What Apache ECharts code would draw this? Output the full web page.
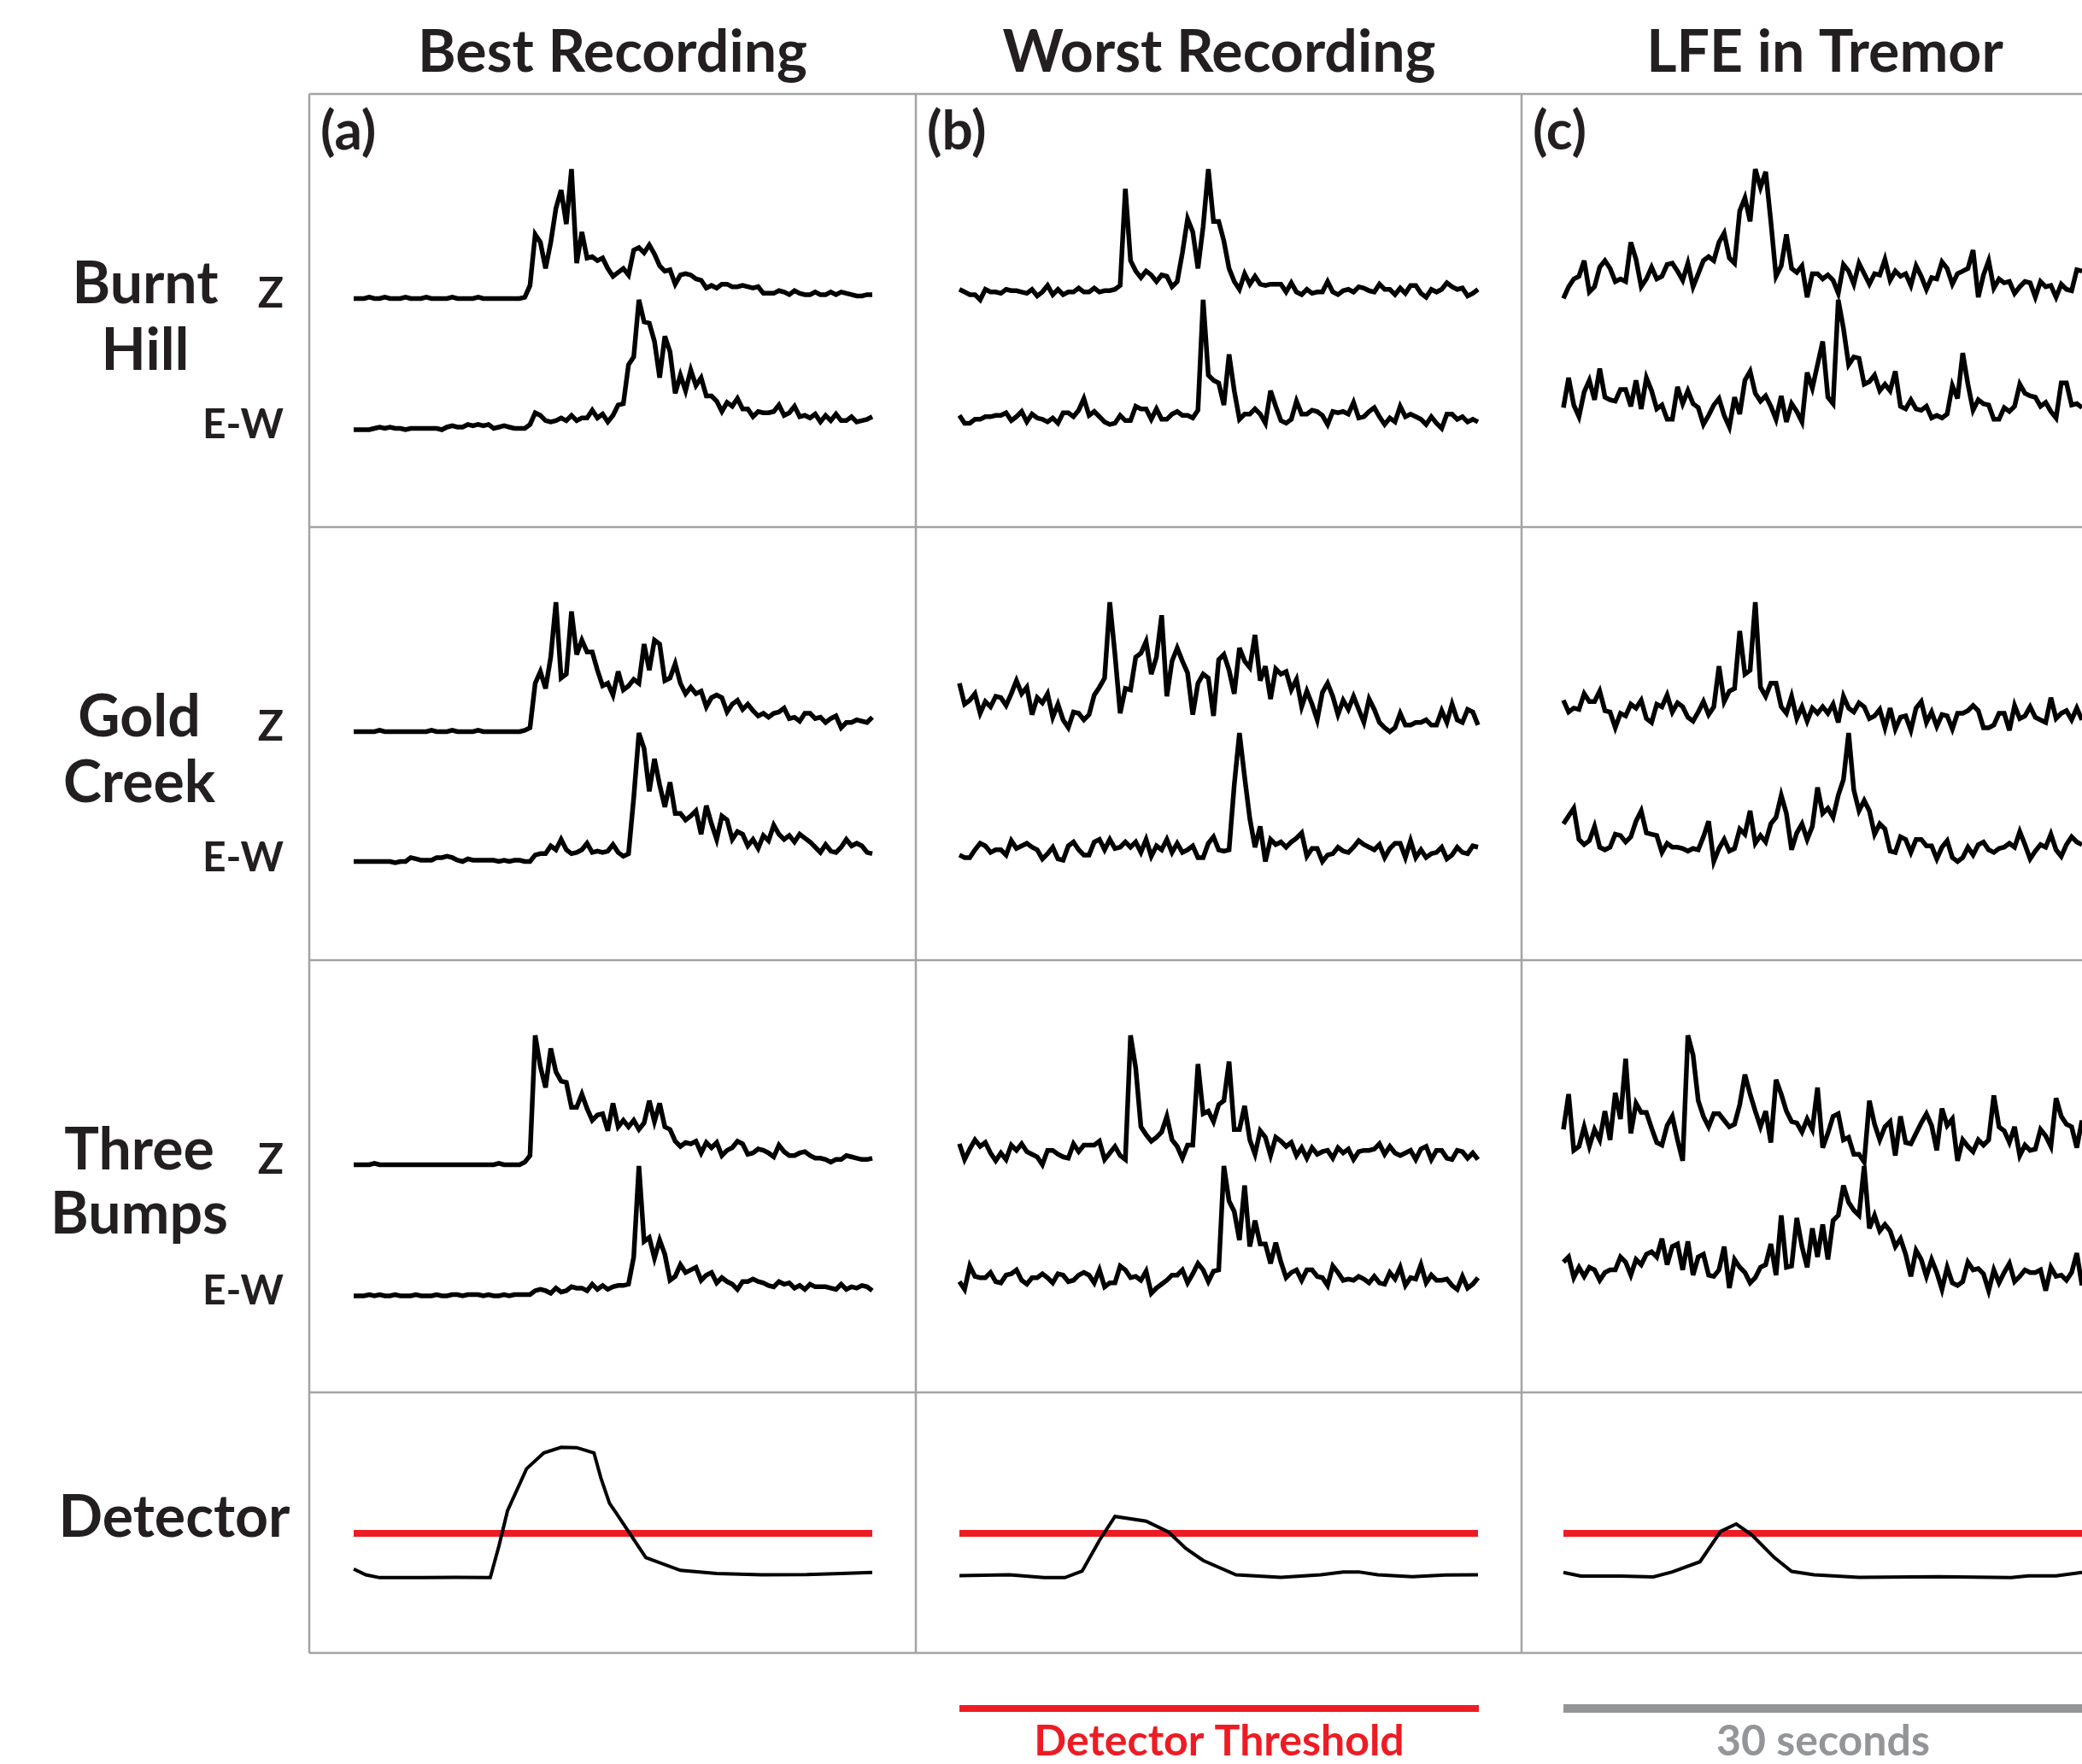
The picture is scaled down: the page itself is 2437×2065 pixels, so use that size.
<!DOCTYPE html>
<html><head><meta charset="utf-8">
<script src="https://cdn.jsdelivr.net/npm/echarts@6/dist/echarts.min.js"></script>
<style>html,body{margin:0;padding:0;background:#fff}#chart{width:2437px;height:2065px}</style>
</head><body><div id="chart"></div>
<script>
// ---------- text ----------
const columnTitles = ['Best Recording', 'Worst Recording', 'LFE in Tremor'];
const panelLetters = ['(a)', '(b)', '(c)'];
const stationNames = [['Burnt', 'Hill'], ['Gold', 'Creek'], ['Three', 'Bumps']];
const componentLabels = ['Z', 'E-W'];
const detectorLabel = 'Detector';
const thresholdLabel = 'Detector Threshold';
const scaleLabel = '30 seconds';

// ---------- time base (seconds) ----------
const sampleStep = 0.3;
const windowLength = 30;

// ---------- normalised envelopes (0 = trace minimum, 100 = trace maximum) ----------
const bestBurntHillZ = [1,1,1,2,1,1,2,1,1,1,2,1,1,1,2,1,1,1,1,2,1,1,1,1,2,1,1,1,1,1,1,1,1,
 2,11,50,44,24,44,70,84,58,100,28,52,32,33,30,32,24,18,21,24,19,38,40,36,42,35,26,22,23,12,19,20,19,16,15,9,11,9,12,12,10,10,11,10,9,10,5,5,5,7,6,4,7,5,4,4,6,4,4,6,4,6,5,4,3,3,4,4];
const bestBurntHillEW = [0,0,0,0,1,2,1,2,1,1, 0,1,1,1,1,1,1,0,2,3, 2,2,4,3,4,3,4,1,2,3, 2,1,1,1,4,13,11,7,6,7, 9,7,11,7,9,9,15,9,12,6, 11,19,20,50,56,100,83,82,68,40, 72,60,28,42,30,46,34,40,26,26, 22,14,21,18,24,16,16,10,14,13, 13,14,19,11,13,18,10,11,9,12, 6,11,7,12,7,7,10,6,7,8, 10];
const worstBurntHillZ = [8,6,4,4,0,8,6,6,5,8, 7,7,6,5,8,3,6,11,4,8, 4,6,6,9,6,6,9,6,7,7, 8,11,85,30,22,17,22,19,14,19, 18,10,14,36,62,52,24,56,100,60, 60,45,24,14,8,20,12,18,12,11, 12,12,12,6,13,6,4,8,5,6, 6,14,6,4,7,8,6,10,9,7, 6,12,8,8,4,9,5,11,11,5, 2,8,6,8,13,10,8,9,3,5, 8];
const worstBurntHillEW = [11,5,5,8,8,10,10,11,11,13, 7,10,14,6,12,9,8,6,9,5, 13,13,10,15,24,11,14,10,6,4, 5,11,7,7,18,16,16,8,16,8, 8,12,14,11,11,9,15,100,42,38, 36,19,58,30,8,12,12,16,12,5, 30,18,7,5,8,22,12,12,15,14, 11,4,14,13,14,12,21,9,10,14, 17,10,4,9,6,18,10,12,10,8, 4,10,5,1,12,12,8,10,6,8, 6];
const lfeBurntHillZ = [1,10,16,18,30,6,10,25,30,24, 14,16,14,44,31,10,16,25,16,18, 27,28,22,15,28,10,20,30,33,30, 44,51,32,28,68,78,60,100,86,98, 60,18,26,50,24,21,26,2,20,20, 16,19,15,5,27,22,12,28,20,12, 20,19,31,15,22,18,20,11,26,18, 8,17,16,29,24,12,20,22,24,38, 2,19,30,9,16,13,14,5,10,14, 13,2,14,10,11,2,12,8,7,23, 22];
const lfeBurntHillEW = [17,40,19,10,29,38,23,47,25,23, 22,31,31,18,38,16,40,30,16,19, 8,8,33,20,30,20,17,4,11,19, 24,11,2,25,12,38,45,28,22,26, 18,8,26,6,20,14,6,44,32,50, 68,25,20,100,78,50,56,55,35,37, 42,30,35,30,45,18,16,23,16,15, 18,9,11,9,12,34,24,59,35,15, 23,20,19,8,8,17,14,18,35,28, 26,25,18,21,14,9,36,36,19,20, 17];

const bestGoldCreekZ = [1,1,1,1,1,2,1,1,1,1,1,1,1,1,1,2,1,1,1,2,1,1,1,1,2,1,1,1,1,1,1,1,1,
 2,4,38,47,34,58,100,42,45,93,60,71,62,62,48,36,38,29,47,33,36,41,38,68,48,71,68,40,42,53,38,30,35,30,32,20,27,29,27,16,22,25,18,22,17,13,15,12,15,16,19,11,12,9,15,15,11,12,8,11,13,4,8,8,10,9,8,12];
const bestGoldCreekEW = [1,1,1,1,1,1,1,1,0,1, 1,4,3,2,2,2,4,4,5,4, 2,1,3,2,2,2,2,2,1,2, 1,2,2,1,1,6,7,7,13,10, 18,10,7,8,10,15,8,9,8,9, 14,8,5,7,50,100,88,55,80,60, 43,62,38,38,33,36,40,22,44,30, 18,36,33,18,24,22,13,18,11,21, 17,29,22,18,21,16,22,19,16,12, 8,14,9,8,12,18,13,15,13,8, 7];
const worstGoldCreekZ = [38,22,25,30,15,24,20,28,27,21, 30,40,30,35,14,27,23,30,12,22, 10,4,16,15,10,14,29,35,42,100, 60,15,34,33,58,61,70,45,58,90, 28,55,65,55,46,14,38,45,42,13, 56,60,48,30,65,55,50,75,40,51, 26,49,45,47,33,41,20,32,22,10, 31,38,28,14,25,18,28,18,8,26, 18,8,4,1,4,15,6,6,8,8, 10,6,6,17,8,22,10,8,18,16, 6];
const worstGoldCreekEW = [6,4,4,10,15,13,8,10,10,6, 17,11,13,15,12,10,3,7,12,3, 2,13,16,10,6,6,16,18,10,18, 11,12,16,12,16,8,18,5,13,10, 18,8,15,8,10,13,4,4,15,20, 10,9,10,60,100,66,34,12,28,1, 18,14,16,12,16,19,23,5,11,11, 1,6,7,12,9,8,12,17,14,12, 10,14,4,11,15,15,4,17,4,10, 4,7,8,12,3,6,12,8,7,13, 12];
const lfeGoldCreekZ = [25,16,19,18,30,24,24,32,17,16, 4,15,13,22,19,25,11,8,22,20, 29,16,23,20,12,9,16,24,14,20, 51,24,32,34,78,45,48,100,35,28, 38,38,20,15,28,11,20,9,19,15, 20,15,22,8,28,19,16,23,20,11, 13,18,4,19,3,12,13,2,19,24, 8,16,5,14,13,3,15,15,17,21, 17,4,4,6,15,15,2,21,11,13, 20,12,10,8,27,11,15,17,10,19, 10];
const lfeGoldCreekEW = [30,36,42,18,14,17,28,12,10,12, 22,21,16,20,32,40,23,22,21,8, 15,12,12,11,9,11,10,20,32,1, 11,18,9,11,26,22,40,15,21,16, 30,35,52,38,10,23,30,18,28,58, 38,42,35,52,64,100,56,40,48,40, 22,30,26,9,8,20,18,8,18,18, 13,13,3,12,17,4,1,4,12,6, 14,16,10,8,11,12,15,12,24,14, 3,9,14,12,22,10,5,14,20,16, 14];

const bestThreeBumpsZ = [1,1,1,1,2,1,1,1,1,1,1,1,1,1,1,1,1,1,1,1,1,1,1,1,1,1,1,1,2,1,1,1,1,
 3,8,100,76,60,90,72,65,64,45,45,55,44,35,39,40,27,48,30,35,30,35,28,33,50,34,48,30,28,19,15,18,17,19,10,18,14,18,8,12,14,19,17,9,10,13,12,10,7,16,11,8,8,10,11,8,6,6,5,3,5,5,8,7,6,5,5,6];
const bestThreeBumpsEW = [0,0,0,1,0,1,0,0,1,0,0,0,1,0,0,0,1,0,0,1,1,0,1,1,1,0,1,0,0,1,0,1,1,1,
 1,4,5,4,2,6,3,4,7,6,6,4,9,5,8,5,7,8,8,9,30,100,42,45,29,43,32,12,15,24,18,20,22,12,16,18,10,14,11,9,5,11,11,13,11,10,8,7,11,9,10,6,8,5,9,7,7,7,6,5,9,5,7,6,8,7,4];
const worstThreeBumpsZ = [17,5,13,20,15,18,10,4,10,5, 16,12,17,11,9,7,1,12,12,9, 7,6,17,11,16,16,16,19,5,10, 15,8,5,100,75,30,24,19,22,26, 38,20,15,6,16,16,78,40,42,34, 47,50,80,28,28,46,20,9,27,22, 8,22,19,15,18,8,14,6,14,9, 11,12,6,14,10,13,5,11,12,12, 13,17,9,15,10,8,10,12,5,13, 15,5,12,12,6,5,12,11,6,10, 5];
const worstThreeBumpsEW = [11,5,23,15,14,14,18,11,10,16, 17,20,12,9,14,14,17,14,10,17, 16,11,12,16,18,16,10,20,7,10, 10,23,20,14,15,12,19,2,6,9, 12,16,16,20,10,17,25,20,11,19, 20,100,73,65,43,85,38,58,40,40, 25,41,26,14,18,20,12,20,20,15, 14,8,23,18,12,13,12,15,13,10, 15,10,9,18,13,22,8,14,13,24, 10,16,12,12,13,8,5,15,6,9, 14];
const lfeThreeBumpsZ = [28,55,12,15,30,15,28,20,42,20, 56,36,82,25,48,41,41,29,18,16, 31,38,20,4,100,85,50,38,30,40, 40,35,30,32,47,70,55,42,30,42, 18,66,55,42,34,33,26,36,28,60, 14,25,38,40,20,22,9,9,3,50, 32,20,30,34,8,38,18,17,25,33, 40,31,12,44,31,36,4,20,15,11, 20,16,20,54,30,27,18,30,8,16, 12,13,28,23,15,52,38,32,30,14, 35];
const lfeThreeBumpsEW = [26,30,14,22,15,22,20,12,18,20, 20,30,26,16,28,24,32,34,30,44, 24,38,40,20,42,16,30,32,16,15, 20,38,6,28,22,18,10,14,22,24, 40,16,62,22,23,60,38,22,52,30, 55,28,58,62,85,72,66,62,100,52, 62,50,55,50,38,44,32,15,35,28, 15,28,18,5,22,10,8,11,26,20, 21,17,4,20,10,18,25,11,15,20, 18,18,20,4,22,15,16,12,18,33, 8];

// ---------- detector output: [time s, level] ----------
const detectorBest = [[0,32.2],[0.7,30.0],[1.5,28.9],[4.0,28.9],[5.9,29.0],[7.9,28.9],[8.4,41.0],[8.9,54.6],[10.0,70.7],[11.0,76.8],[12.0,78.9],[12.9,78.8],[13.9,76.8],[14.3,67.2],[14.8,57.4],[15.2,53.6],[16.9,36.6],[18.9,31.7],[21.0,30.5],[23.6,30.0],[26.2,30.1],[28.2,30.5],[30,30.9]];
const detectorWorst = [[0,29.7],[2.9,30.0],[4.9,28.9],[6.1,28.9],[7.1,31.4],[8.1,43.2],[9.0,52.4],[10.8,50.6],[12.1,46.4],[13.1,40.1],[14.1,35.5],[16.0,30.0],[18.6,29.0],[20.9,30.0],[22.2,31.1],[23.1,31.1],[24.2,30.0],[26.2,29.3],[28.1,29.9],[30,30.0]];
const detectorLFE = [[0,30.9],[1.0,29.5],[3.3,29.5],[5.2,29.2],[6.3,31.1],[7.9,35.0],[9.1,46.7],[10.0,49.5],[10.9,45.3],[12.2,36.6],[13.2,31.3],[14.5,30.0],[17.1,29.0],[21.7,29.3],[25.9,28.9],[26.9,29.6],[28.5,29.6],[30,30.9]];
const detectorThreshold = 45.9;

// ---------- layout ----------
const traces = [
  [[bestBurntHillZ, bestBurntHillEW], [worstBurntHillZ, worstBurntHillEW], [lfeBurntHillZ, lfeBurntHillEW]],
  [[bestGoldCreekZ, bestGoldCreekEW], [worstGoldCreekZ, worstGoldCreekEW], [lfeGoldCreekZ, lfeGoldCreekEW]],
  [[bestThreeBumpsZ, bestThreeBumpsEW], [worstThreeBumpsZ, worstThreeBumpsEW], [lfeThreeBumpsZ, lfeThreeBumpsEW]]
];
const detectors = [detectorBest, detectorWorst, detectorLFE];

const frameLeft = 362, frameRight = 2437;
const colEdges = [362, 1072, 1781];
const colCenters = [717, 1427, 2136];
const rowEdges = [110, 617, 1124, 1630, 1935];
const traceLeft = [414, 1123, 1830];
const traceWidth = 607;
const frameColor = '#a3a3a3';
const inkColor = '#231f20';
const red = '#ed1c24';
const grey = '#939598';
const FONT = 'Lato, "Open Sans", sans-serif';

const grids = [], xAxes = [], yAxes = [], series = [];
function addGrid(left, top, width, height, ymin, ymax) {
  const idx = grids.length;
  grids.push({ left, top, width, height, show: false, containLabel: false });
  xAxes.push({ type: 'value', gridIndex: idx, min: 0, max: windowLength, show: false });
  yAxes.push({ type: 'value', gridIndex: idx, min: ymin, max: ymax, show: false });
  return idx;
}
const toPairs = vals => vals.map((v, i) => [Math.round(i * sampleStep * 100) / 100, v]);
function lineSeries(idx, data, color, width, z) {
  return {
    type: 'line', xAxisIndex: idx, yAxisIndex: idx, data,
    symbol: 'none', showSymbol: false, clip: false, silent: true, animation: false, z: z || 2,
    lineStyle: { color, width, join: 'miter', miterLimit: 4, cap: 'butt' }
  };
}

for (let r = 0; r < 3; r++) {
  for (let c = 0; c < 3; c++) {
    const top = rowEdges[r];
    const gz = addGrid(traceLeft[c], top + 88, traceWidth, 153, 0, 100);
    series.push(lineSeries(gz, toPairs(traces[r][c][0]), '#000', 5.5));
    const ge = addGrid(traceLeft[c], top + 241, traceWidth, 152, 0, 100);
    series.push(lineSeries(ge, toPairs(traces[r][c][1]), '#000', 5.5));
  }
}
for (let c = 0; c < 3; c++) {
  const gd = addGrid(traceLeft[c], rowEdges[3], traceWidth, rowEdges[4] - rowEdges[3], 0, 100);
  series.push(lineSeries(gd, [[0, detectorThreshold], [windowLength, detectorThreshold]], red, 8, 2));
  series.push(lineSeries(gd, detectors[c], '#000', 4, 3));
}

// ---------- graphics: frame + text ----------
const g = [];
function hline(y, x1, x2, color, w) { g.push({ type: 'line', silent: true, shape: { x1, y1: y, x2, y2: y }, style: { stroke: color, lineWidth: w } }); }
function vline(x, y1, y2, color, w) { g.push({ type: 'line', silent: true, shape: { x1: x, y1, x2: x, y2 }, style: { stroke: color, lineWidth: w } }); }
function text(str, x, y, size, color, align) {
  g.push({ type: 'text', silent: true, x, y, z: 10, style: {
    text: str, fill: color, font: `bold ${size}px ${FONT}`,
    align: align || 'center', verticalAlign: 'middle', textAlign: align || 'center', textVerticalAlign: 'middle'
  } });
}
rowEdges.forEach(y => hline(y, frameLeft, frameRight, frameColor, 2.5));
colEdges.forEach(x => vline(x, rowEdges[0], rowEdges[4], frameColor, 2.5));

columnTitles.forEach((t, c) => text(t, colCenters[c], 62, 68, inkColor));
panelLetters.forEach((t, c) => text(t, colEdges[c] + 13, 154, 64, inkColor, 'left'));

const nameCenters = [[170, 333, 411], [163, 840, 917], [163, 1347, 1422]];
stationNames.forEach((pair, r) => {
  text(pair[0], nameCenters[r][0], nameCenters[r][1], 68, inkColor);
  text(pair[1], nameCenters[r][0], nameCenters[r][2], 68, inkColor);
  text(componentLabels[0], 332, rowEdges[r] + 234, 50, inkColor, 'right');
  text(componentLabels[1], 332, rowEdges[r] + 388, 48, inkColor, 'right');
});
text(detectorLabel, 204, 1777, 68, inkColor);

// legend
hline(2000, traceLeft[1], traceLeft[1] + traceWidth + 1, red, 8);
hline(2000, traceLeft[2], frameRight, grey, 10);
text(thresholdLabel, colCenters[1], 2039, 50, red);
text(scaleLabel, 2134, 2039, 50, grey);

const chart = echarts.init(document.getElementById('chart'), null, { renderer: 'canvas', width: 2437, height: 2065 });
chart.setOption({
  backgroundColor: '#ffffff',
  animation: false,
  grid: grids, xAxis: xAxes, yAxis: yAxes, series,
  graphic: { elements: g }
});
</script>
</body></html>
